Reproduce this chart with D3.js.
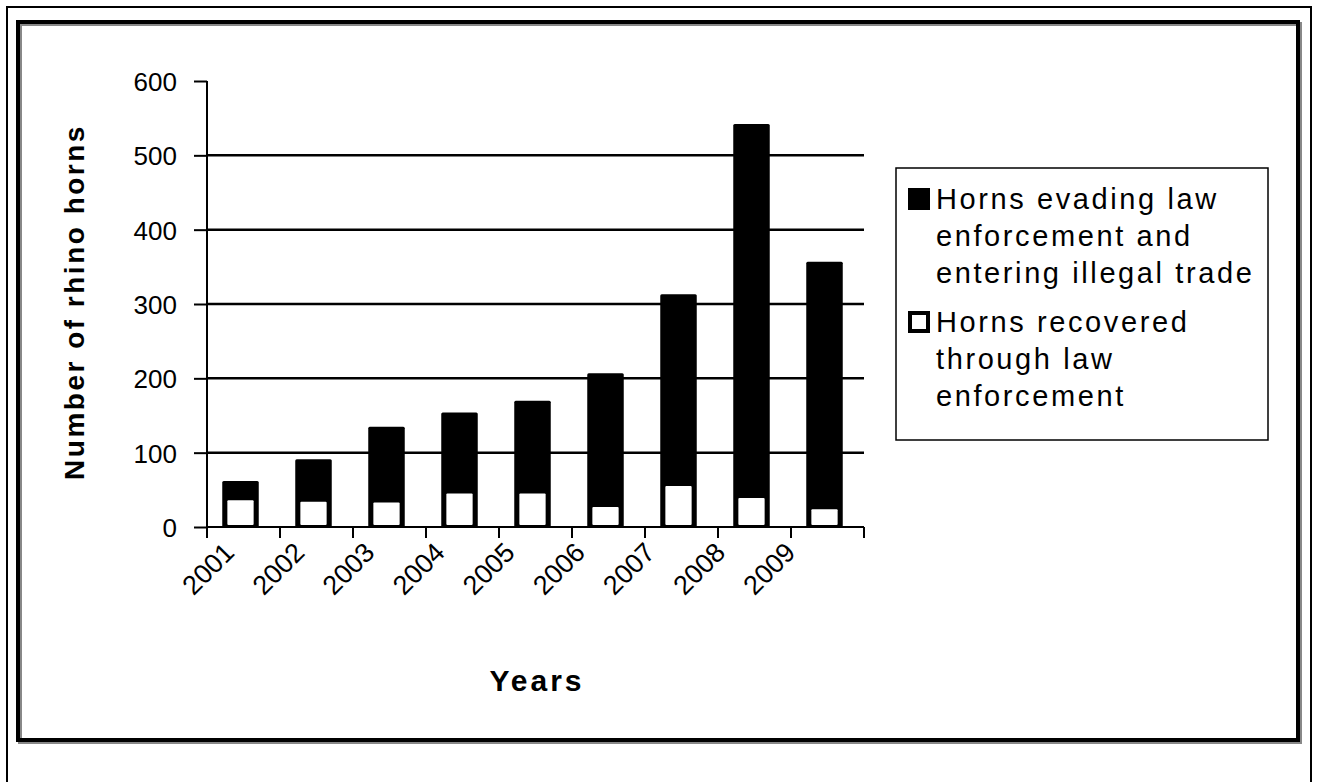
<!DOCTYPE html>
<meta charset="utf-8">
<title>Rhino horns</title>
<style>
  body { margin: 0; background: #fff; }
  text { font-family: "Liberation Sans", Arial, sans-serif; fill: #000; }
  .axis path, .axis line { stroke: #000; stroke-width: 2px; }
  .grid line { stroke: #000; stroke-width: 2.5px; }
</style>
<body>
<script src="https://cdn.jsdelivr.net/npm/d3@7"></script>
<script>
var years = ["2001", "2002", "2003", "2004", "2005", "2006", "2007", "2008", "2009"];
var recovered = [36, 34, 33, 45, 45, 27, 55, 39, 24];
var evading = [26, 57, 102, 109, 125, 180, 258, 503, 333];
var yTicks = [0, 100, 200, 300, 400, 500, 600];
var legendLines = [
  ["Horns evading law", "enforcement and", "entering illegal trade"],
  ["Horns recovered", "through law", "enforcement"]
];

var data = years.map(function(y, i) {
  return {year: y, recovered: recovered[i], evading: evading[i], total: recovered[i] + evading[i]};
});

var svg = d3.select("body").append("svg")
    .attr("width", 1319)
    .attr("height", 782);

svg.append("rect").attr("width", 1319).attr("height", 782).attr("fill", "#fff");

// outer thin frame and inner thick frame with shadow
svg.append("rect").attr("x", 7).attr("y", 7).attr("width", 1304).attr("height", 800)
    .attr("fill", "none").attr("stroke", "#000").attr("stroke-width", 2);
svg.append("rect").attr("x", 20).attr("y", 24).attr("width", 1280).attr("height", 718)
    .attr("fill", "none").attr("stroke", "#888").attr("stroke-width", 4);
svg.append("rect").attr("x", 18).attr("y", 22).attr("width", 1280).attr("height", 718)
    .attr("fill", "none").attr("stroke", "#000").attr("stroke-width", 4);

var plotLeft = 207, plotRight = 864, plotTop = 81, plotBottom = 527;

var x = d3.scaleBand().domain(years).range([plotLeft, plotRight]).paddingInner(0.5).paddingOuter(0.25);
var y = d3.scaleLinear().domain([0, 600]).range([plotBottom, plotTop]);
// year labels sit a little left of their bars, drifting toward the ticks
var xLabel = d3.scalePoint().domain(years).range([236, 797]);

// gridlines
svg.append("g").attr("class", "grid")
  .selectAll("line").data(yTicks.filter(function(t) { return t > 0 && t < 600; }))
  .enter().append("line")
    .attr("x1", plotLeft).attr("x2", plotRight)
    .attr("y1", function(d) { return y(d); }).attr("y2", function(d) { return y(d); });

// bars: black = all horns, white = recovered part drawn narrower inside
var bars = svg.append("g").selectAll("g").data(data).enter().append("g");
bars.append("rect")
    .attr("x", function(d) { return x(d.year) - 3; })
    .attr("y", function(d) { return y(d.total); })
    .attr("width", x.bandwidth())
    .attr("height", function(d) { return y(0) - y(d.total); })
    .attr("rx", 1.5)
    .attr("fill", "#000");
var inner = x.bandwidth() * 0.72;
bars.append("rect")
    .attr("x", function(d) { return x(d.year) - 3 + (x.bandwidth() - inner) / 2; })
    .attr("y", function(d) { return y(d.recovered); })
    .attr("width", inner)
    .attr("height", function(d) { return y(0) - y(d.recovered) - 2; })
    .attr("rx", 1)
    .attr("fill", "#fff");

// y axis
var yAxis = svg.append("g").attr("class", "axis")
    .attr("transform", "translate(" + plotLeft + ",0)")
    .call(d3.axisLeft(y).tickValues(yTicks).tickSize(13).tickSizeOuter(0).tickPadding(17));
yAxis.selectAll("text").style("font-size", "26px").attr("dy", "0.36em");
yAxis.select(".domain").attr("d", "M0," + plotTop + "V" + plotBottom);

// x axis with ticks at band edges
var step = x.step();
var edges = d3.range(years.length + 1).map(function(i) { return x(years[0]) - step * 0.25 + i * step; });
var xAxisG = svg.append("g").attr("class", "axis");
xAxisG.append("line").attr("x1", plotLeft).attr("x2", plotRight).attr("y1", plotBottom).attr("y2", plotBottom);
xAxisG.selectAll(".tick").data(edges).enter().append("line")
    .attr("x1", function(d) { return d; }).attr("x2", function(d) { return d; })
    .attr("y1", plotBottom).attr("y2", plotBottom + 11);

svg.append("g").selectAll("text").data(years).enter().append("text")
    .attr("transform", function(d) {
      return "translate(" + xLabel(d) + "," + (plotBottom + 27) + ") rotate(-45)";
    })
    .attr("text-anchor", "end")
    .style("font-size", "27px")
    .text(function(d) { return d; });

// axis titles
svg.append("text")
    .attr("transform", "translate(84,302) rotate(-90)")
    .attr("text-anchor", "middle")
    .style("font-size", "28px").style("font-weight", "bold").style("letter-spacing", "2.5px")
    .text("Number of rhino horns");
svg.append("text")
    .attr("x", 537).attr("y", 691)
    .attr("text-anchor", "middle")
    .style("font-size", "30px").style("font-weight", "bold").style("letter-spacing", "3px")
    .text("Years");

// legend
var lg = svg.append("g");
lg.append("rect").attr("x", 896).attr("y", 168).attr("width", 372).attr("height", 272)
    .attr("fill", "#fff").attr("stroke", "#000").attr("stroke-width", 1.5);
var itemTop = [209, 332];
lg.append("rect").attr("x", 908).attr("y", itemTop[0] - 21).attr("width", 22).attr("height", 22).attr("fill", "#000");
lg.append("rect").attr("x", 910).attr("y", itemTop[1] - 19).attr("width", 18).attr("height", 18)
    .attr("fill", "#fff").attr("stroke", "#000").attr("stroke-width", 4);
legendLines.forEach(function(lines, k) {
  lines.forEach(function(t, j) {
    lg.append("text").attr("x", 936).attr("y", itemTop[k] + j * 37)
      .style("font-size", "29px")
      .style("letter-spacing", "2.6px")
      .text(t);
  });
});
</script>
</body>
</html>
